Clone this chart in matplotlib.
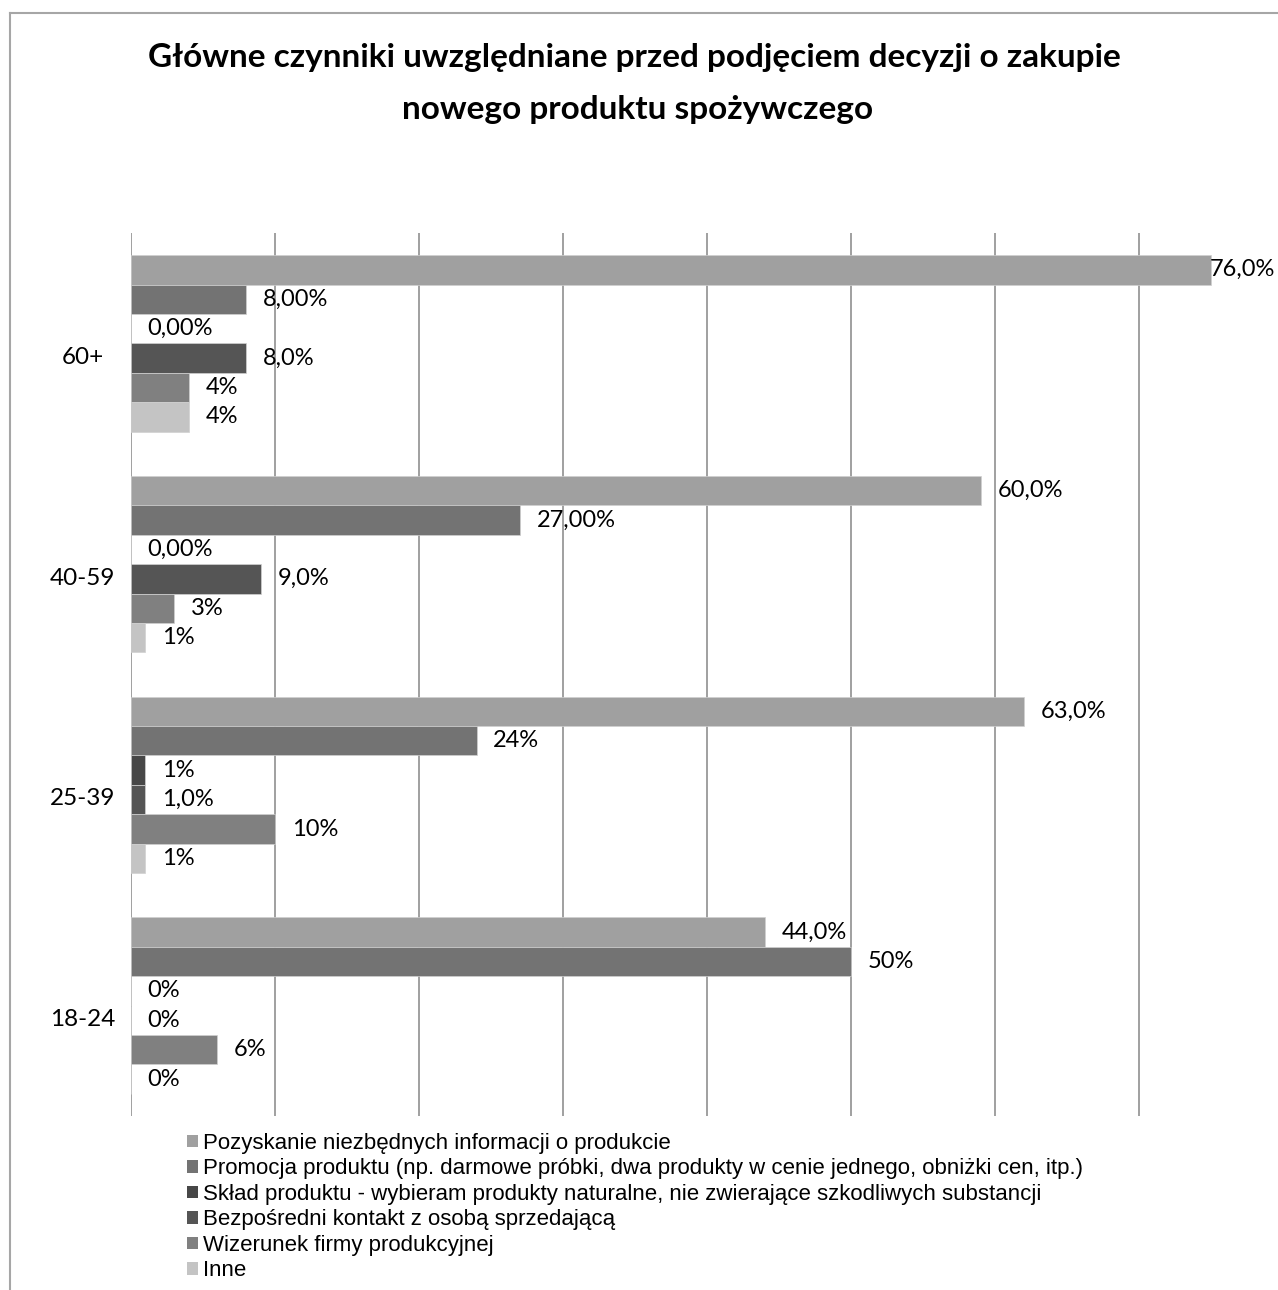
import matplotlib
matplotlib.use('Agg')
import matplotlib.pyplot as plt
from matplotlib.lines import Line2D
from matplotlib.transforms import ScaledTranslation
import numpy as np

# ---------------- data ----------------
categories = ['18-24', '25-39', '40-59', '60+']
series_names = [
    'Pozyskanie niezbędnych informacji o produkcie',
    'Promocja produktu (np. darmowe próbki, dwa produkty w cenie jednego, obniżki cen, itp.)',
    'Skład produktu - wybieram produkty naturalne, nie zwierające szkodliwych substancji',
    'Bezpośredni kontakt z osobą sprzedającą',
    'Wizerunek firmy produkcyjnej',
    'Inne',
]
pozyskanie = [44, 62, 59, 75]
promocja = [50, 24, 27, 8]
sklad = [0, 1, 0, 0]
kontakt = [0, 1, 9, 8]
wizerunek = [6, 10, 3, 4]
inne = [0, 1, 1, 4]

pozyskanie_lbl = ['44,0%', '63,0%', '60,0%', '76,0%']
promocja_lbl = ['50%', '24%', '27,00%', '8,00%']
sklad_lbl = ['0%', '1%', '0,00%', '0,00%']
kontakt_lbl = ['0%', '1,0%', '9,0%', '8,0%']
wizerunek_lbl = ['6%', '10%', '3%', '4%']
inne_lbl = ['0%', '1%', '1%', '4%']

values = [pozyskanie, promocja, sklad, kontakt, wizerunek, inne]
value_labels = [pozyskanie_lbl, promocja_lbl, sklad_lbl, kontakt_lbl, wizerunek_lbl, inne_lbl]
colors = ['#a0a0a0', '#737373', '#474747', '#555555', '#808080', '#c4c4c4']

# ---------------- figure ----------------
W, H = 1278, 1290
DPI = 100
fig = plt.figure(figsize=(W / DPI, H / DPI), dpi=DPI)
fig.patch.set_facecolor('white')

label_font = ['Lato', 'DejaVu Sans']
legend_font = ['Liberation Sans Narrow', 'Liberation Sans', 'DejaVu Sans']

ax = fig.add_axes([131 / W, 1 - 1116 / H, (1283 - 131) / W, (1116 - 233) / H])
ax.set_axisbelow(True)

n = len(values)
group = 0.8
h = group / n
y = np.arange(len(categories))
texts = []
for j, (vals, labs) in enumerate(zip(values, value_labels)):
    ypos = y + group / 2 - (j + 0.5) * h
    ax.barh(ypos, vals, height=h, color=colors[j], edgecolor='#d0d0d0',
            linewidth=0.5, label=series_names[j], zorder=2)
    for yy, v, t in zip(ypos, vals, labs):
        txt = ax.annotate(t, xy=(v, yy), xytext=(12, 0), textcoords='offset points',
                          va='center', ha='left', fontsize=17, family=label_font,
                          color='black', annotation_clip=False, zorder=3)
        texts.append(txt)

ax.set_xlim(0, 80)
ax.set_ylim(-0.5, 3.5)
ax.set_xticks(np.arange(0, 80, 10))
ax.xaxis.grid(True, color='#a0a0a0', linewidth=1.4)
ax.tick_params(axis='x', length=0, labelbottom=False)
ax.set_yticks(y)
ax.set_yticklabels(categories, fontsize=17.5, family=label_font)
ax.tick_params(axis='y', length=0, pad=35)
shift_down = ScaledTranslation(0, -12 / DPI, fig.dpi_scale_trans)
for lab in ax.get_yticklabels():
    lab.set_ha('center')
    lab.set_transform(lab.get_transform() + shift_down)
for s in ax.spines.values():
    s.set_visible(False)

# title
title_kw = dict(ha='center', va='baseline', fontsize=24, fontweight='bold',
                family=['Lato', 'DejaVu Sans'])
fig.text(634 / W, 1 - 67 / H,
         'Główne czynniki uwzględniane przed podjęciem decyzji o zakupie', **title_kw)
fig.text(638 / W, 1 - 119 / H, 'nowego produktu spożywczego', **title_kw)

# legend
handles, labels = ax.get_legend_handles_labels()
leg = fig.legend(handles, labels, loc='upper left', bbox_to_anchor=(187 / W, 1 - 1133 / H),
                 frameon=False, prop={'family': legend_font, 'size': 16},
                 handlelength=0.5, handleheight=0.5, handletextpad=0.2,
                 labelspacing=0.2, borderaxespad=0, borderpad=0)
for p in leg.get_patches():
    p.set_edgecolor('none')

# outer chart frame (partially visible)
fig.add_artist(Line2D([10 / W, 1.0], [1 - 13 / H, 1 - 13 / H], color='#a6a6a6', linewidth=1.5,
                      transform=fig.transFigure))
fig.add_artist(Line2D([10 / W, 10 / W], [0, 1 - 13 / H], color='#a6a6a6', linewidth=1.5,
                      transform=fig.transFigure))

# keep labels inside chart area
fig.canvas.draw()
renderer = fig.canvas.get_renderer()
for t in texts:
    bb = t.get_window_extent(renderer)
    if bb.x1 > W - 3:
        shift = bb.x1 - (W - 3)
        ox, oy = t.xyann
        t.xyann = (ox - shift * 72 / DPI, oy)

fig.savefig('out.png', dpi=DPI)
